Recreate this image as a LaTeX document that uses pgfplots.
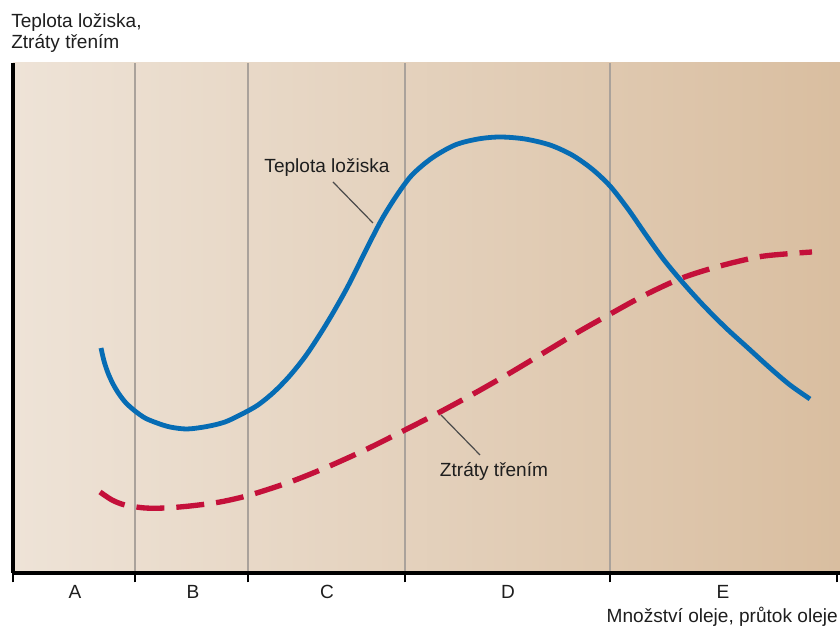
\documentclass[border=0pt]{standalone}
\usepackage{fontspec}
\setmainfont{Liberation Sans}
\usepackage{pgfplots}
\pgfplotsset{compat=1.18}
\definecolor{bgL}{RGB}{238,227,215}
\definecolor{bgR}{RGB}{217,190,160}
\definecolor{cblue}{RGB}{6,108,180}
\definecolor{cred}{RGB}{196,16,58}
\definecolor{gline}{RGB}{170,162,155}
\definecolor{txt}{RGB}{30,30,30}
\begin{document}
\begin{tikzpicture}[x=0.75pt,y=0.75pt]
\useasboundingbox (-9.75pt,-40.5pt) rectangle (620.25pt,429.75pt);
\begin{axis}[
  at={(0,0)}, anchor=south west,
  scale only axis, width=620.25pt, height=382.5pt,
  xmin=13, xmax=840, ymin=0, ymax=510,
  axis x line=bottom, axis y line=left,
  every outer x axis line/.append style={-},
  every outer y axis line/.append style={-},
  axis line style={-, line width=2.6pt, black},
  xtick={13,135,248,405,610,837}, xticklabels={}, ytick=\empty,
  tick align=outside, major tick length=7pt,
  every tick/.style={black, line width=1.5pt},
  axis background/.style={left color=bgL, right color=bgR},
  clip=false,
  font=\fontsize{14.3}{17}\selectfont,
]
\foreach \xx in {135,248,405,610} {
  \edef\temp{\noexpand\draw[gline, line width=1.2pt] (axis cs:\xx,1.5) -- (axis cs:\xx,510);}
  \temp
}
% Friction losses
\addplot[cred, line width=4pt, dash pattern=on 21pt off 9pt, smooth, tension=0.5] coordinates {
(100,81) (112,73) (125,68) (145,65) (165,65) (190,67) (220,71) (250,78)
(290,91) (325,105) (365,123) (405,143) (440,161) (475,180) (510,200)
(545,221) (580,242) (612,260) (645,278) (682,295) (720,307) (758,316)
(785,319) (812,321)
};
% Bearing temperature
\addplot[cblue, line width=3.6pt, smooth, tension=0.5] coordinates {
(101,225) (104,212) (108,200) (113,189) (119,179) (126,170) (135,162)
(145,155) (157,150) (170,146) (187,144) (207,146.5) (225,151) (242,159)
(258,168) (274,181) (290,197.5) (307,219) (327,250)
(347,285) (367,325) (382,354) (397,378) (412,398) (432,415) (455,428)
(478,434) (500,436) (525,434) (550,428) (572,418) (592,404) (610,387)
(628,364) (646,338) (664,313) (684,289) (704,267) (726,245) (748,225)
(770,205) (790,188) (810,174)
};
\draw[txt!80, line width=0.9pt] (axis cs:333,391) -- (axis cs:373,350);
\draw[txt!80, line width=0.9pt] (axis cs:480,118) -- (axis cs:441,158);
\node[anchor=base, text=txt] at (axis cs:327,400) {Teplota ložiska};
\node[anchor=base, text=txt] at (axis cs:494,96) {Ztráty třením};
\node[anchor=base, text=txt] at (axis cs:75,-26) {A};
\node[anchor=base, text=txt] at (axis cs:193,-26) {B};
\node[anchor=base, text=txt] at (axis cs:327,-26) {C};
\node[anchor=base, text=txt] at (axis cs:508,-26) {D};
\node[anchor=base, text=txt] at (axis cs:723,-26) {E};
\node[anchor=base east, text=txt, inner sep=0pt] at (axis cs:838,-50) {Množství oleje, průtok oleje};
\node[anchor=base west, text=txt, inner sep=0pt] at (axis cs:11,545) {Teplota ložiska,};
\node[anchor=base west, text=txt, inner sep=0pt] at (axis cs:11,524) {Ztráty třením};
\end{axis}
\end{tikzpicture}
\end{document}
